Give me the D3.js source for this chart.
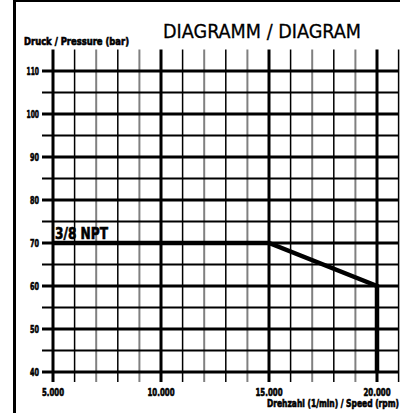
<!DOCTYPE html>
<html>
<head>
<meta charset="UTF-8" />
<title>Diagramm / Diagram</title>
<script src="https://d3js.org/d3.v7.min.js"></script>
<style>
  body {
    margin: 0;
    background: #ffffff;
  }
  svg {
    display: block;
  }
  .lbl {
    font-family: "DejaVu Sans Condensed", "DejaVu Sans", sans-serif;
    font-weight: bold;
    fill: #000;
    stroke: #000;
    stroke-width: 0.6px;
  }
</style>
</head>
<body>
<svg id="chart"></svg>
<script>
  // data
  const speeds = [5000, 15000, 20000, 20000];      // rpm
  const pressures = [70, 70, 60, 40];               // bar
  const xTicks = [5000, 10000, 15000, 20000];
  const xTickLabels = ["5.000", "10.000", "15.000", "20.000"];
  const yTicks = [40, 50, 60, 70, 80, 90, 100, 110];
  const seriesName = "3/8 NPT";

  const width = 409, height = 413;

  const svg = d3.select("#chart")
    .attr("width", width)
    .attr("height", height);

  const x = d3.scaleLinear().domain([5000, 21000]).range([53, 398.6]);
  const y = d3.scaleLinear().domain([40, 115]).range([372, 49.5]);

  // frame (left and top edge only)
  svg.append("line")
    .attr("x1", 14.5).attr("x2", 14.5)
    .attr("y1", 0).attr("y2", height)
    .attr("stroke", "#000").attr("stroke-width", 3);
  svg.append("line")
    .attr("x1", 13).attr("x2", 400)
    .attr("y1", 1).attr("y2", 1)
    .attr("stroke", "#000").attr("stroke-width", 2);

  // vertical grid, one every 1000 rpm
  const vLines = d3.range(5000, 21001, 1000);
  const odd = d => ((d % 5000) / 1000) % 2 === 1;
  svg.selectAll("line.vgrid")
    .data(vLines)
    .enter().append("line")
    .attr("class", "vgrid")
    .attr("x1", d => x(d)).attr("x2", d => x(d))
    .attr("y1", y(115)).attr("y2", 382)
    .attr("stroke", d => d % 5000 === 0 || odd(d) ? "#000" : "#808080")
    .attr("stroke-width", d => d % 5000 === 0 ? 3 : odd(d) ? 1.5 : 2);

  // horizontal grid, one every 5 bar
  const hLines = d3.range(40, 111, 5);
  svg.selectAll("line.hgrid")
    .data(hLines)
    .enter().append("line")
    .attr("class", "hgrid")
    .attr("x1", 42).attr("x2", x(21000))
    .attr("y1", d => y(d)).attr("y2", d => y(d))
    .attr("stroke", "#000")
    .attr("stroke-width", d => d % 10 === 0 ? 3 : 1.8);

  // curve
  const pts = speeds.map((s, i) => [s, pressures[i]]);
  svg.append("path")
    .datum(pts)
    .attr("fill", "none")
    .attr("stroke", "#000")
    .attr("stroke-width", 4.5)
    .attr("stroke-linejoin", "miter")
    .attr("d", d3.line().x(d => x(d[0])).y(d => y(d[1])));

  // y tick labels
  svg.selectAll("text.ytick")
    .data(yTicks)
    .enter().append("text")
    .attr("class", "lbl ytick")
    .attr("x", 39)
    .attr("y", d => y(d) + 4)
    .attr("text-anchor", "end")
    .attr("font-size", 10.5)
    .attr("textLength", d => d >= 100 ? 12.5 : 9)
    .attr("lengthAdjust", "spacingAndGlyphs")
    .text(d => d);

  // x tick labels
  svg.selectAll("text.xtick")
    .data(xTicks)
    .enter().append("text")
    .attr("class", "lbl xtick")
    .attr("x", d => x(d))
    .attr("y", 396)
    .attr("text-anchor", "middle")
    .attr("font-size", 10.5)
    .attr("textLength", (d, i) => xTickLabels[i].length > 5 ? 27 : 22)
    .attr("lengthAdjust", "spacingAndGlyphs")
    .text((d, i) => xTickLabels[i]);

  // axis titles
  svg.append("text")
    .attr("class", "lbl")
    .attr("x", 24).attr("y", 44.5)
    .attr("font-size", 10)
    .attr("textLength", 105)
    .attr("lengthAdjust", "spacingAndGlyphs")
    .text("Druck / Pressure (bar)");

  svg.append("text")
    .attr("class", "lbl")
    .attr("x", 399).attr("y", 407)
    .attr("text-anchor", "end")
    .attr("font-size", 10)
    .attr("textLength", 132)
    .attr("lengthAdjust", "spacingAndGlyphs")
    .text("Drehzahl (1/min) / Speed (rpm)");

  // title
  svg.append("text")
    .attr("x", 163).attr("y", 38)
    .attr("font-family", "'DejaVu Sans Condensed', 'DejaVu Sans', sans-serif")
    .attr("font-size", 20)
    .attr("fill", "#000")
    .attr("stroke", "#000")
    .attr("stroke-width", 0.3)
    .attr("textLength", 198)
    .attr("lengthAdjust", "spacingAndGlyphs")
    .text("DIAGRAMM / DIAGRAM");

  // series label
  svg.append("text")
    .attr("class", "lbl")
    .attr("x", 55).attr("y", 239)
    .attr("font-size", 16)
    .attr("textLength", 53)
    .attr("lengthAdjust", "spacingAndGlyphs")
    .text(seriesName);
</script>
</body>
</html>
